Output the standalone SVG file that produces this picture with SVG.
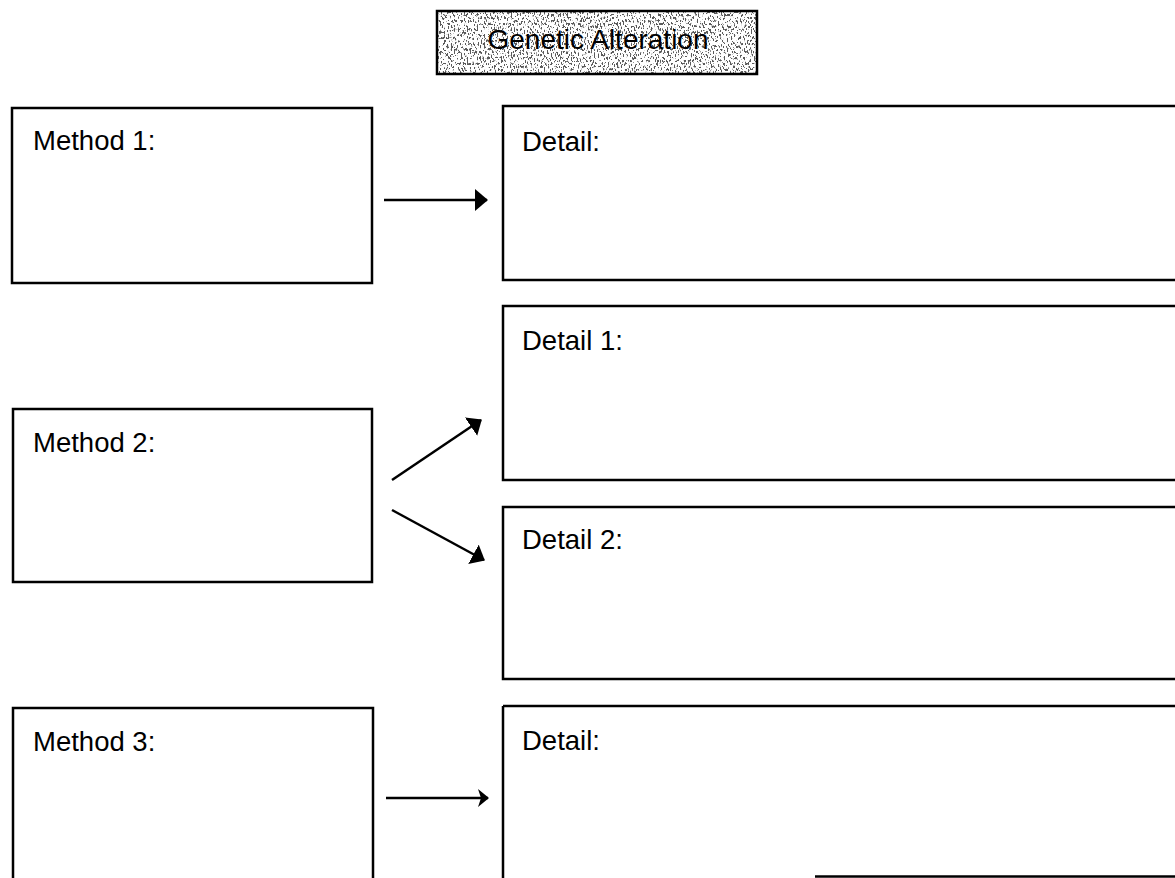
<svg xmlns="http://www.w3.org/2000/svg" width="1175" height="878" viewBox="0 0 1175 878">
  <style>
    .box { fill: none; stroke: #000; stroke-width: 2.5; }
    .label { font-family: "Liberation Sans", Arial, sans-serif; font-size: 27.5px; fill: #000; }
    .title { font-family: "Liberation Sans", Arial, sans-serif; font-size: 28px; fill: #000; }
    .link { fill: none; stroke: #000; stroke-width: 2.5; }
  </style>
  <defs>
    <!-- grainy gray fill for the heading box -->
    <filter id="speckle" x="0" y="0" width="100%" height="100%" filterUnits="objectBoundingBox">
      <feTurbulence type="fractalNoise" baseFrequency="0.7 0.35" numOctaves="2" seed="7" result="noise"/>
      <feColorMatrix in="noise" type="matrix" values="0 0 0 0 0.1  0 0 0 0 0.1  0 0 0 0 0.1  -16 0 0 0 7.2" result="dots"/>
      <feFlood flood-color="#fff" result="paper"/>
      <feComposite in="dots" in2="paper" operator="over"/>
    </filter>
    <marker id="head" viewBox="0 0 13 22" refX="12" refY="11" markerWidth="13" markerHeight="22" markerUnits="userSpaceOnUse" orient="auto">
      <path d="M0,0 L13,11 L0,22 Z" fill="#000"/>
    </marker>
    <marker id="head-small" viewBox="0 0 11 18" refX="10" refY="9" markerWidth="11" markerHeight="18" markerUnits="userSpaceOnUse" orient="auto">
      <path d="M0,0 L11,9 L0,18 L3,9 Z" fill="#000"/>
    </marker>
  </defs>

  <rect width="1175" height="878" fill="#fff"/>

  <!-- heading -->
  <g id="title">
    <rect x="437" y="11" width="320" height="63" fill="#fff" filter="url(#speckle)"/>
    <rect x="437" y="11" width="320" height="63" class="box"/>
    <text x="598" y="49" class="title" text-anchor="middle">Genetic Alteration</text>
  </g>

  <!-- left column: methods -->
  <g id="method1">
    <rect x="12" y="108" width="360" height="175" class="box"/>
    <text x="33" y="150" class="label">Method 1:</text>
  </g>
  <g id="method2">
    <rect x="13" y="409" width="359" height="173" class="box"/>
    <text x="33" y="452" class="label">Method 2:</text>
  </g>
  <g id="method3">
    <rect x="13" y="708" width="360" height="200" class="box"/>
    <text x="33" y="751" class="label">Method 3:</text>
  </g>

  <!-- right column: details (run off the right edge) -->
  <g id="detail-a">
    <rect x="503" y="106" width="700" height="174" class="box"/>
    <text x="522" y="151" class="label">Detail:</text>
  </g>
  <g id="detail-1">
    <rect x="503" y="306" width="700" height="174" class="box"/>
    <text x="522" y="350" class="label">Detail 1:</text>
  </g>
  <g id="detail-2">
    <rect x="503" y="507" width="700" height="172" class="box"/>
    <text x="522" y="549" class="label">Detail 2:</text>
  </g>
  <g id="detail-3">
    <path d="M503,706 H1175 M503,706 V878" class="box"/>
    <path d="M815,876.5 H1175" class="box"/>
    <text x="522" y="750" class="label">Detail:</text>
  </g>

  <!-- connectors -->
  <g id="connectors">
    <line x1="384" y1="200" x2="487" y2="200" class="link" marker-end="url(#head)"/>
    <line x1="392" y1="480" x2="481" y2="420" class="link" marker-end="url(#head)"/>
    <line x1="392" y1="510" x2="484" y2="560" class="link" marker-end="url(#head)"/>
    <line x1="386" y1="798" x2="488" y2="798" class="link" stroke-width="2" marker-end="url(#head-small)"/>
  </g>
</svg>
